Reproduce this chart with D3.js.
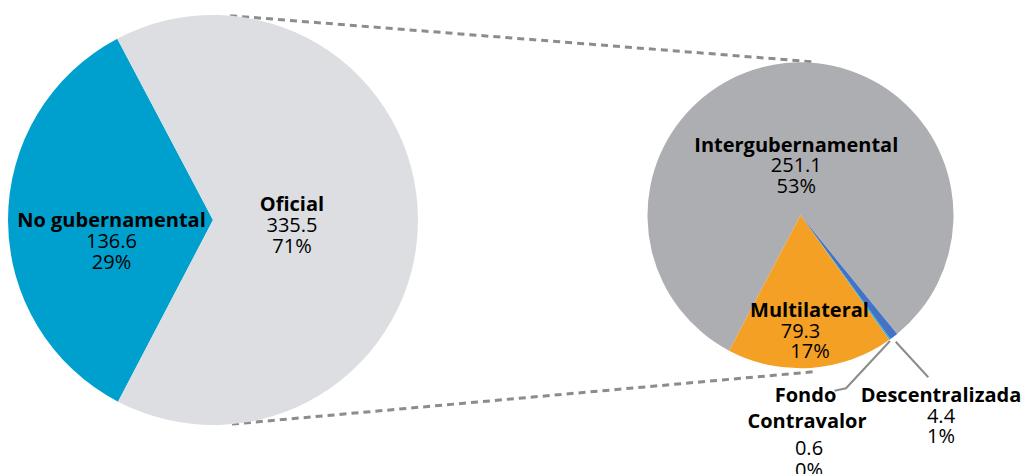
<!DOCTYPE html>
<html>
<head>
<meta charset="utf-8">
<script src="https://cdn.jsdelivr.net/npm/d3@7"></script>
<style>
  html, body { margin: 0; padding: 0; background: #ffffff; }
  svg { display: block; }
  text { font-family: "Open Sans", Lato, sans-serif; fill: #000; }
</style>
</head>
<body>
<svg id="chart" width="1022" height="474"></svg>
<script>
// ---- data ----
const mainCategories = ["No gubernamental", "Oficial"];
const mainValues = [136.6, 335.5];
const mainPercents = ["29%", "71%"];
// slice sizes as drawn in the reference (percent of the circle)
const mainSliceShares = [34.6, 65.4];

const subCategories = ["Intergubernamental", "Descentralizada", "Fondo Contravalor", "Multilateral"];
const subValues = [251.1, 4.4, 0.6, 79.3];
const subPercents = ["53%", "1%", "0%", "17%"];
// slice sizes as drawn in the reference (percent of the circle)
const subSliceShares = [81.4, 0.86, 0.14, 17.6];

// ---- styling ----
const mainColors = ["#00A0CE", "#DCDEE2"];
const subColors = ["#ADAEB2", "#4472C4", "#00B0F0", "#F4A024"];

const svg = d3.select("#chart");
const deg = Math.PI / 180;

// geometry
const L = { cx: 213, cy: 220, r: 205, start: 207.6 };
const R = { cx: 800.5, cy: 215.3, r: 153, start: 207.8 };

function drawPie(g, geo, cats, shares, colors) {
  const pie = d3.pie().sort(null).value(d => d.share)
    .startAngle(geo.start * deg).endAngle(geo.start * deg + 2 * Math.PI);
  const arc = d3.arc().innerRadius(0).outerRadius(geo.r);
  const data = cats.map((c, i) => ({ cat: c, share: shares[i], color: colors[i] }));
  g.attr("transform", `translate(${geo.cx},${geo.cy})`)
    .selectAll("path").data(pie(data)).join("path")
    .attr("d", arc).attr("fill", d => d.data.color);
}

// connector dashed lines
function pt(geo, angDeg, rr) {
  const a = angDeg * deg;
  return [geo.cx + rr * Math.sin(a), geo.cy - rr * Math.cos(a)];
}
const conn = [
  [pt(L, 4.8, L.r), pt(R, 4.6, R.r + 1)],
  [pt(L, 174.7, L.r), pt(R, 175, R.r + 4)]
];
svg.append("g").selectAll("line").data(conn).join("line")
  .attr("x1", d => d[0][0]).attr("y1", d => d[0][1])
  .attr("x2", d => d[1][0]).attr("y2", d => d[1][1])
  .attr("stroke", "#8C8C8C").attr("stroke-width", 3)
  .attr("stroke-dasharray", "7,5");

drawPie(svg.append("g"), L, mainCategories, mainSliceShares, mainColors);
drawPie(svg.append("g"), R, subCategories, subSliceShares, subColors);

// leader lines
const leaders = [
  [[890, 341], [846, 388.3], [834.5, 390.7]],
  [[895.7, 341.7], [928.3, 377.3]]
];
svg.append("g").selectAll("path").data(leaders).join("path")
  .attr("d", d => d3.line()(d))
  .attr("fill", "none").attr("stroke", "#8C8C8C").attr("stroke-width", 2);

// labels
const FS = 20;
const labels = [
  { lines: [[mainCategories[0], true, 111.5, 226.7], [mainValues[0].toFixed(1), false, 111.5, 247.7], [mainPercents[0], false, 111.5, 269.3]] },
  { lines: [[mainCategories[1], true, 292, 210.7], [mainValues[1].toFixed(1), false, 292, 231.7], [mainPercents[1], false, 292, 252.7]] },
  { lines: [[subCategories[0], true, 796.3, 151.7], [subValues[0].toFixed(1), false, 796.3, 171.7], [subPercents[0], false, 796.3, 192.7]] },
  { lines: [[subCategories[3], true, 809.5, 317.3], [subValues[3].toFixed(1), false, 800.5, 337.7], [subPercents[3], false, 810, 358.3]] },
  { lines: [["Fondo", true, 805.5, 401.7], ["Contravalor", true, 807, 428.3], [subValues[2].toFixed(1), false, 809, 455], [subPercents[2], false, 809, 476.5]] },
  { lines: [[subCategories[1], true, 941, 401.7], [subValues[1].toFixed(1), false, 941, 423.3], [subPercents[1], false, 941, 443.3]] }
];
const lg = svg.append("g");
labels.forEach(l => {
  l.lines.forEach(([t, bold, x, y]) => {
    lg.append("text").attr("x", x).attr("y", y)
      .attr("text-anchor", "middle")
      .attr("font-size", FS)
      .attr("font-weight", bold ? 700 : 400)
      .text(t);
  });
});
</script>
</body>
</html>
